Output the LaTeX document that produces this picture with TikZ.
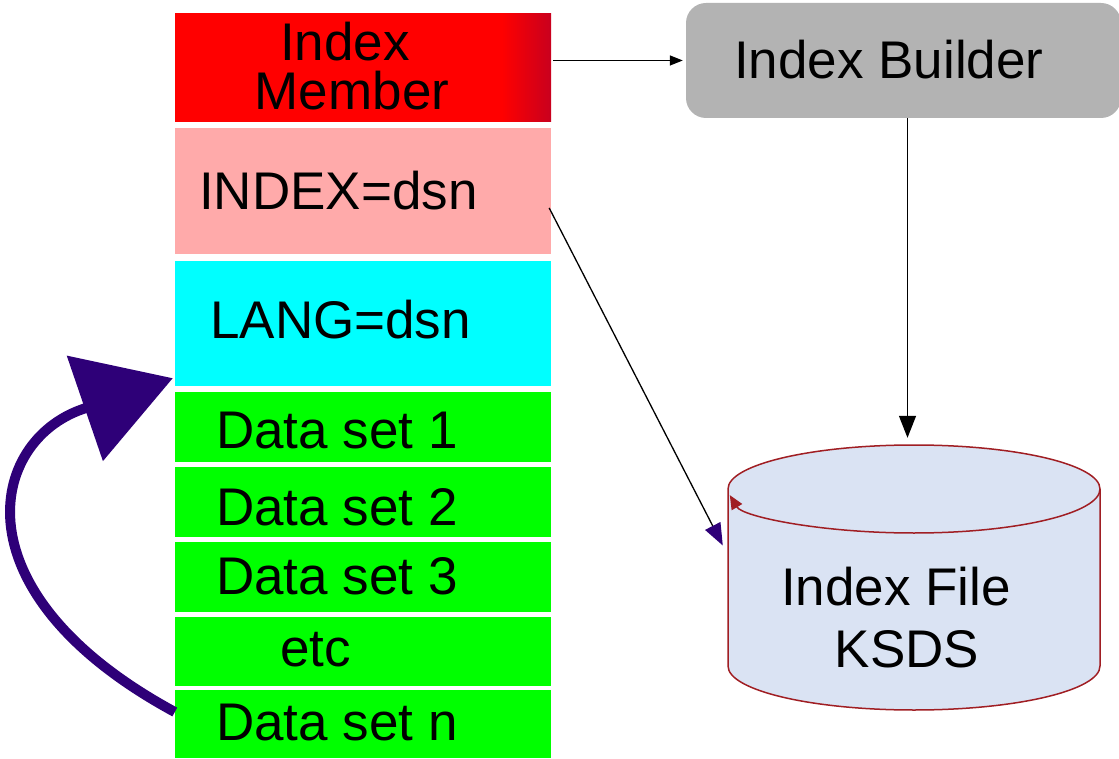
\documentclass[tikz,border=0pt]{standalone}
\usepackage{fontspec}
\setmainfont{Liberation Sans}
\usetikzlibrary{arrows.meta,calc}
\definecolor{pinkbox}{RGB}{255,170,170}
\definecolor{cyanbox}{RGB}{0,255,255}
\definecolor{greenbox}{RGB}{0,255,0}
\definecolor{graybox}{RGB}{179,179,179}
\definecolor{cylfill}{RGB}{218,227,243}
\definecolor{cylline}{RGB}{160,30,35}
\definecolor{indigo}{RGB}{46,0,120}
\definecolor{darkcrimson}{RGB}{200,0,30}
\begin{document}
\begin{tikzpicture}[x=1pt,y=-1pt,
  box/.style={rectangle,inner sep=0pt,minimum width=376pt,anchor=center},
  lbl/.style={inner sep=0pt,anchor=base west,font=\fontsize{53}{62}\selectfont},
  thinarrow/.style={draw=black,line width=1.3pt},
  cylstyle/.style={draw=cylline,line width=1.5pt},
]
\useasboundingbox (0,0) rectangle (1119,759);
% stacked boxes
\node[box,fill=red,minimum height=109pt,
  path picture={\foreach \i in {0,...,24}{
      \pgfmathsetmacro{\pc}{100-4*\i}
      \fill[red!\pc!darkcrimson]
        ($(path picture bounding box.north east)+(-50+2*\i,0)$) rectangle
        ($(path picture bounding box.south east)+(-47.5+2*\i,0)$);}}]
  (im) at (363,67.5) {};
\node[box,fill=pinkbox,minimum height=126pt] (pink) at (363,191) {};
\node[box,fill=cyanbox,minimum height=125pt] (lang) at (363,323.5) {};
\node[box,fill=greenbox,minimum height=70pt] (g1) at (363,427) {};
\node[box,fill=greenbox,minimum height=70pt] (g2) at (363,502) {};
\node[box,fill=greenbox,minimum height=70pt] (g3) at (363,577) {};
\node[box,fill=greenbox,minimum height=69pt] (g4) at (363,651.5) {};
\node[box,fill=greenbox,minimum height=68pt] (g5) at (363,724) {};
% labels
\node[lbl,anchor=base] (imA) at (345,61) {Index};
\node[lbl,anchor=base] (imB) at (352,110) {Member};
\node[lbl] (pinkT) at (199,210) {INDEX=dsn};
\node[lbl] (langT) at (210,338) {LANG=dsn};
\node[lbl] (g1T) at (216,448) {Data set 1};
\node[lbl] (g2T) at (216,525) {Data set 2};
\node[lbl] (g3T) at (216,594) {Data set 3};
\node[lbl] (g4T) at (280,666) {etc};
\node[lbl] (g5T) at (216,740) {Data set n};
% index builder
\node[fill=graybox,rounded corners=20pt,minimum width=435pt,minimum height=115pt,inner sep=0pt] (ib) at (903.5,60.5) {};
\node[lbl] (ibT) at (734,79) {Index Builder};
% cylinder
\node[inner sep=0pt,minimum width=372pt,minimum height=265pt] (cyl) at (914,577.5) {};
\path[cylstyle,fill=cylfill] (728,489) -- (728,666)
  arc[start angle=180,end angle=0,x radius=186,y radius=44] -- (1100,489)
  arc[start angle=0,end angle=-180,x radius=186,y radius=44] -- cycle;
\draw[cylstyle,-{Triangle[length=14pt,width=12pt]},cylline] (1100,489)
  arc[start angle=0,end angle=172,x radius=186,y radius=44];
\node[lbl,anchor=base] (cylA) at (896,605) {Index File};
\node[lbl,anchor=base] (cylB) at (907,667) {KSDS};
% connectors
\draw[thinarrow,-{Triangle[length=13pt,width=10pt]}] ($(im.east |- ib.west)+(2,0)$) -- ($(ib.west)+(-3,0)$);
\draw[thinarrow,-{Triangle[length=22pt,width=17pt]}] ($(ib.south)+(4,0)$) -- ($(ib.south |- cyl.north)+(4,-7)$);
\draw[thinarrow,-{Triangle[length=22pt,width=17pt,color=indigo]}] ($(pink.east)+(-2,17)$) -- ($(cyl.west)+(-5,-32)$);
\draw[indigo,line width=10pt,-{Triangle[length=93pt,width=109pt]}] ($(g5.west)+(0,-12)$)
  .. controls (-44.8,593) and (-11.6,441.3) .. (83,409) -- ($(lang.south west)+(-2,-8)$);
\end{tikzpicture}
\end{document}
